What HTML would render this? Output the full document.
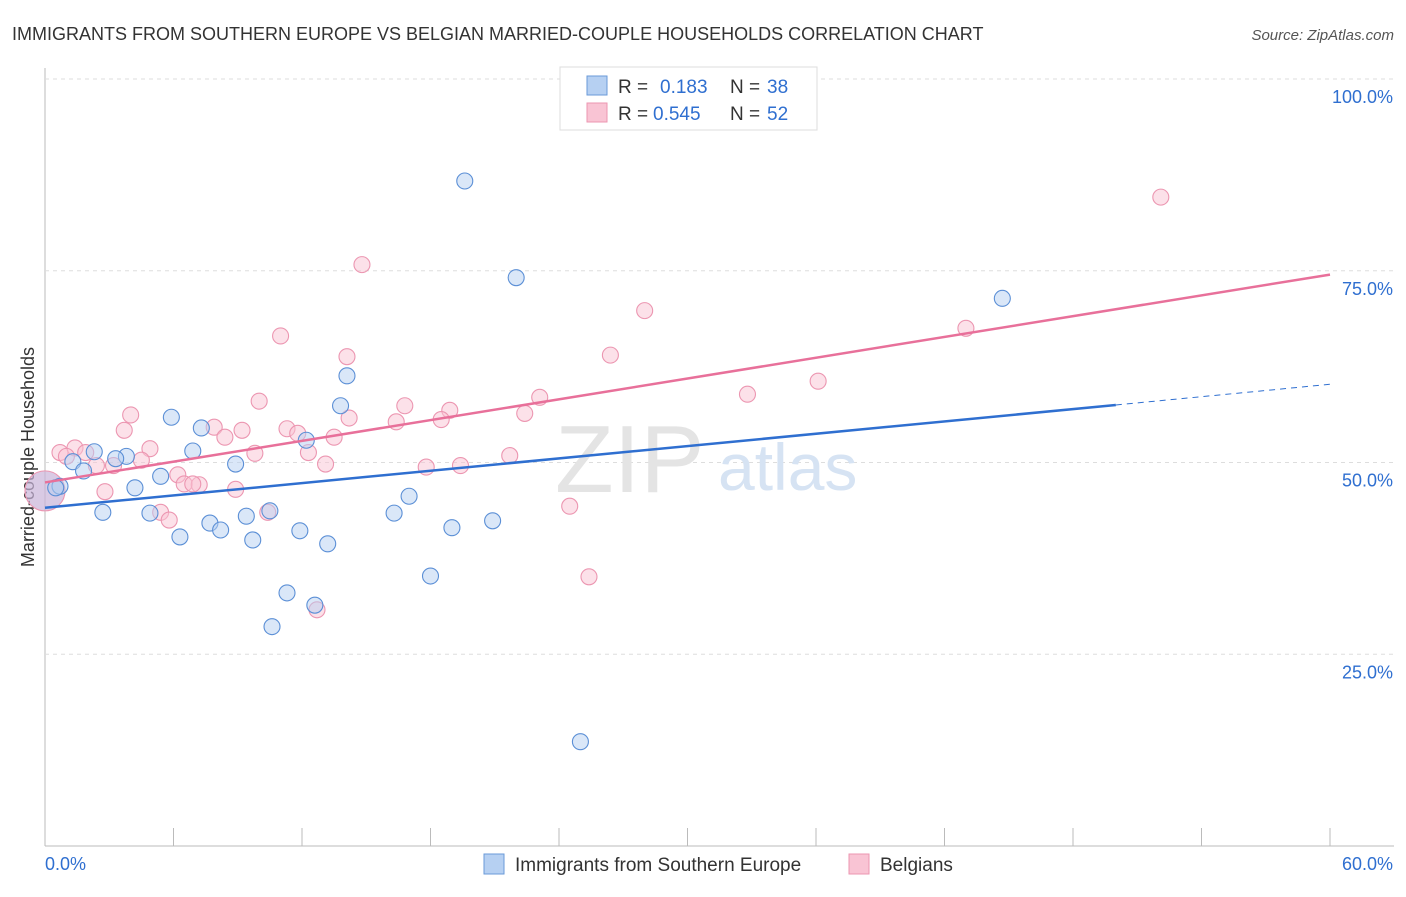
<!DOCTYPE html>
<html><head><meta charset="utf-8"><style>
body{margin:0;background:#fff;font-family:"Liberation Sans",sans-serif}
svg text{font-family:"Liberation Sans",sans-serif}
</style></head><body>
<svg id="c" width="1406" height="892">
<text x="12" y="40" font-size="18" fill="#333">IMMIGRANTS FROM SOUTHERN EUROPE VS BELGIAN MARRIED-COUPLE HOUSEHOLDS CORRELATION CHART</text>
<text x="1394" y="40" font-size="15" fill="#555" font-style="italic" text-anchor="end">Source: ZipAtlas.com</text>
<text x="0" y="0" transform="translate(34,457) rotate(-90)" font-size="18" fill="#333" text-anchor="middle">Married-couple Households</text>
<g id="grid"></g>
<text x="555" y="492" font-size="96" fill="#e4e4e4" font-family="Liberation Serif">ZIP</text>
<text x="718" y="490" font-size="66" fill="#d6e3f3">atlas</text>
<g id="pts"></g>
<g id="lines"></g>
<g>
<rect x="560" y="67" width="257" height="63" fill="#fff" stroke="#ddd"/>
<rect x="587" y="76" width="20" height="19" fill="#b6d0f2" stroke="#6a9ad8"/>
<rect x="587" y="103" width="20" height="19" fill="#f9c4d4" stroke="#ec96b1"/>
<text x="618" y="93" font-size="19" fill="#333">R =</text>
<text x="660" y="93" font-size="19" fill="#2f6fd0">0.183</text>
<text x="730" y="93" font-size="19" fill="#333">N =</text>
<text x="767" y="93" font-size="19" fill="#2f6fd0">38</text>
<text x="618" y="120" font-size="19" fill="#333">R =</text>
<text x="653" y="120" font-size="19" fill="#2f6fd0">0.545</text>
<text x="730" y="120" font-size="19" fill="#333">N =</text>
<text x="767" y="120" font-size="19" fill="#2f6fd0">52</text>
</g>
<g>
<rect x="484" y="854" width="20" height="20" fill="#b6d0f2" stroke="#6a9ad8"/>
<text x="515" y="871" font-size="19" fill="#333">Immigrants from Southern Europe</text>
<rect x="849" y="854" width="20" height="20" fill="#f9c4d4" stroke="#ec96b1"/>
<text x="880" y="871" font-size="19" fill="#333">Belgians</text>
</g>
</svg>
<script>
const yTicks=[100,75,50,25];
const xTickCount=10;
const blueX=[19.6,22.0,44.7,14.1,13.8,5.9,7.3,12.2,6.9,2.3,3.8,3.3,1.3,8.9,1.8,5.4,0.7,0.5,4.2,17.0,2.7,4.9,10.5,9.4,16.3,7.7,8.2,11.9,19.0,20.9,6.3,9.7,13.2,18.0,11.3,12.6,10.6,25.0];
const blueY=[86.7,74.1,71.4,61.3,57.4,55.9,54.5,52.9,51.5,51.4,50.8,50.5,50.1,49.8,48.9,48.2,46.9,46.7,46.7,45.6,43.5,43.4,43.7,43.0,43.4,42.1,41.2,41.1,41.5,42.4,40.3,39.9,39.4,35.2,33.0,31.4,28.6,13.6];
const pinkX=[52.1,14.8,28.0,43.0,11.0,14.1,26.4,36.1,32.8,10.0,23.1,16.8,18.9,4.0,22.4,14.2,16.4,18.5,7.9,11.3,3.7,9.2,11.8,8.4,13.5,0.7,1.4,4.9,1.9,1.0,12.3,9.8,21.7,4.5,2.4,3.2,13.1,17.8,19.4,6.2,6.5,7.2,6.9,8.9,2.8,5.4,5.8,10.4,24.5,25.4,12.7,0.0];
const pinkY=[84.6,75.8,69.8,67.5,66.5,63.8,64.0,60.6,58.9,58.0,58.5,57.4,56.8,56.2,56.4,55.8,55.3,55.6,54.6,54.4,54.2,54.2,53.8,53.3,53.3,51.3,51.9,51.8,51.3,50.8,51.3,51.2,50.9,50.3,49.6,49.6,49.8,49.4,49.6,48.4,47.2,47.1,47.2,46.5,46.2,43.5,42.5,43.5,44.3,35.1,30.8,46.3];
const bigIdx=51;
const blueFit=[0,44.1,50,57.5,60,60.2];
const pinkFit=[0,47.4,60,74.5];
const X=v=>45+v/60*1285, Y=v=>846-v/100*767;
const NS="http://www.w3.org/2000/svg";
function mk(t,a,p){const e=document.createElementNS(NS,t);for(const k in a)e.setAttribute(k,a[k]);p.appendChild(e);return e;}
const g=document.getElementById('grid');
mk('line',{x1:45,y1:68,x2:45,y2:846,stroke:'#bbb'},g);
mk('line',{x1:45,y1:846,x2:1394,y2:846,stroke:'#bbb'},g);
yTicks.forEach(t=>{
 const l=mk('line',{x1:45,y1:Y(t),x2:1394,y2:Y(t),stroke:'#ddd','stroke-dasharray':'4,4'},g);
 
 
 const tx=mk('text',{x:1393,y:Y(t)+24,'font-size':18,fill:'#2f6fd0','text-anchor':'end'},g);
 tx.textContent=t.toFixed(1)+'%';
 
 
});
for(let i=0;i<=xTickCount;i++){
 const l=mk('line',{x1:X(i*6),y1:828,x2:X(i*6),y2:846,stroke:'#bbb'},g);
 
 
}
let t0=mk('text',{x:45,y:870,'font-size':18,fill:'#2f6fd0'},g);t0.textContent='0.0%';


let t1=mk('text',{x:1393,y:870,'font-size':18,fill:'#2f6fd0','text-anchor':'end'},g);t1.textContent='60.0%';


const pg=document.getElementById('pts');
pinkX.forEach((x,i)=>{
 const big=i===bigIdx;
 const c=mk('circle',{cx:X(x),cy:Y(pinkY[i]),r:big?20:8,fill:big?'#c9b3d8':'#f9c4d4','fill-opacity':big?0.7:0.5,stroke:'#ec96b1','stroke-width':1.1},pg);
 
 
});
blueX.forEach((x,i)=>{
 const c=mk('circle',{cx:X(x),cy:Y(blueY[i]),r:8,fill:'#b6d0f2','fill-opacity':0.5,stroke:'#5b8fd6','stroke-width':1.1},pg);
 
 
});
const lg=document.getElementById('lines');
let bl=mk('line',{x1:X(blueFit[0]),y1:Y(blueFit[1]),x2:X(blueFit[2]),y2:Y(blueFit[3]),stroke:'#2f6fd0','stroke-width':2.5},lg);


let bd=mk('line',{x1:X(blueFit[2]),y1:Y(blueFit[3]),x2:X(blueFit[4]),y2:Y(blueFit[5]),stroke:'#2f6fd0','stroke-width':1,'stroke-dasharray':'6,5'},lg);


let pl=mk('line',{x1:X(pinkFit[0]),y1:Y(pinkFit[1]),x2:X(pinkFit[2]),y2:Y(pinkFit[3]),stroke:'#e8709a','stroke-width':2.5},lg);


</script>
</body></html>
